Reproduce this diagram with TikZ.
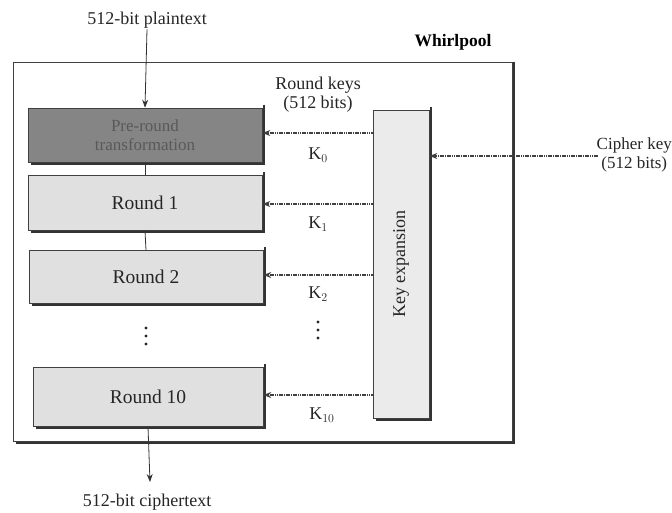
\documentclass[tikz,border=0pt]{standalone}
\usepackage{fontspec}
\setmainfont{Liberation Serif}
\usetikzlibrary{arrows.meta}
\begin{document}
\begin{tikzpicture}[x=1pt,y=-1pt,
  lbl/.style={font=\fontsize{18}{19}\selectfont, inner sep=1pt, align=center, text=black!85},
  boxbase/.style={draw=black!75, line width=0.6pt, inner sep=0pt, font=\fontsize{19.5}{19}\selectfont, align=center, text=black!85},
  roundbox/.style={boxbase, fill=black!12},
  prebox/.style={boxbase, fill=black!48, text=black!65},
  keyarrow/.style={draw=black!75, line width=1.3pt, dash pattern=on 1.6pt off 0.7pt, -{Stealth[length=8pt,width=6pt]}},
  solidarrow/.style={draw=black!80, line width=0.8pt, -{Stealth[length=8pt,width=6pt]}},
  link/.style={draw=black!80, line width=0.8pt},
  shadowline/.style={draw=black!80, line width=2.4pt},
  dot/.style={fill=black!85}
]
\useasboundingbox (0,0) rectangle (672,512);
\fill[white] (0,0) rectangle (672,512);

% outer Whirlpool box
\node[draw=black!75, line width=0.7pt, minimum width=499pt, minimum height=379pt, inner sep=0pt] (whirl) at (262.5,251.5) {};
\draw[shadowline] ([xshift=1.5pt]whirl.north east) -- ([xshift=1.5pt,yshift=-1.5pt]whirl.south east) -- ([xshift=3pt,yshift=-1.5pt]whirl.south west);
\node[font=\bfseries\fontsize{17.5}{19}\selectfont, inner sep=1pt] (wlabel) at (453,42) {Whirlpool};

% round boxes
\node[prebox, minimum width=234pt, minimum height=54pt, font=\fontsize{17}{19}\selectfont] (pre) at (145,135) {Pre-round\\transformation};
\node[roundbox, minimum width=234pt, minimum height=55pt] (r1) at (145,203) {Round 1};
\node[roundbox, minimum width=234pt, minimum height=53pt] (r2) at (146,277) {Round 2};
\node[roundbox, minimum width=230pt, minimum height=59pt] (r10) at (148,397) {Round 10};
\node[boxbase, fill=black!8, minimum width=56pt, minimum height=308pt] (kx) at (401,264) {};
\node[font=\fontsize{18}{19}\selectfont, rotate=90, inner sep=0pt, text=black!85] (kxt) at (kx.center) {Key expansion};

% shadows on boxes
\foreach \b in {pre,r1,r2,r10,kx}{
  \draw[shadowline] ([xshift=1.4pt,yshift=3pt]\b.north east) -- ([xshift=1.4pt,yshift=-1.4pt]\b.south east) -- ([xshift=3pt,yshift=-1.4pt]\b.south west);
}

% links between rounds
\draw[link] (pre.south) -- (r1.north);
\draw[link] (r1.south) -- (r2.north);

% plaintext / ciphertext
\node[lbl] (pt) at (147,20) {512-bit plaintext};
\draw[solidarrow] (pt.south) -- (pre.north);
\node[lbl] (ct) at (147,502) {512-bit ciphertext};
\coordinate (ctend) at (150,482);
\draw[solidarrow] (r10.south) -- (ctend);

% round keys
\node[lbl] (rk) at (318,95) {Round keys\\(512 bits)};
\coordinate (a0) at (0,133);
\coordinate (a1) at (0,204);
\coordinate (a2) at (0,275);
\coordinate (a10) at (0,395);
\draw[keyarrow] (kx.west |- a0) -- (pre.east |- a0);
\draw[keyarrow] (kx.west |- a1) -- (r1.east |- a1);
\draw[keyarrow] (kx.west |- a2) -- (r2.east |- a2);
\draw[keyarrow] (kx.west |- a10) -- (r10.east |- a10);
\node[lbl] (k0) at (318,155) {K$_0$};
\node[lbl] (k1) at (318,224) {K$_1$};
\node[lbl] (k2) at (318,294) {K$_2$};
\node[lbl] (k10) at (322,415) {K$_{10}$};

% dots
\foreach \yy in {328,336,344}{
  \fill[dot] (146,\yy) circle (1.7pt);
  \fill[dot] (318,\yy-6) circle (1.7pt);
}

% cipher key
\node[lbl, anchor=east, font=\fontsize{17}{19}\selectfont] (ck) at (673,155) {Cipher key\\(512 bits)};
\coordinate (ckstart) at (598,156);
\draw[keyarrow] (ckstart) -- (kx.east |- ckstart);
\end{tikzpicture}
\end{document}
